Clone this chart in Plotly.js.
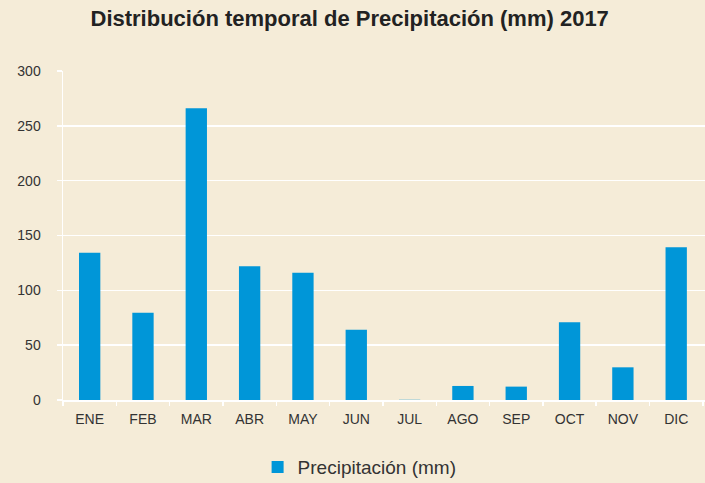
<!DOCTYPE html>
<html><head><meta charset="utf-8">
<script src="https://cdn.plot.ly/plotly-3.0.1.min.js"></script>
<style>html,body{margin:0;padding:0;background:#F5ECD8;}</style>
</head><body>
<div id="chart" style="width:705px;height:483px;"></div>
<script>
const months = ["ENE","FEB","MAR","ABR","MAY","JUN","JUL","AGO","SEP","OCT","NOV","DIC"];
const precip = [134.3, 79.5, 266, 122, 116, 64, 0.2, 12.8, 12.2, 70.8, 29.8, 139.2];
const yTicks = [0, 50, 100, 150, 200, 250, 300];

Plotly.newPlot("chart", [{
  type: "bar", x: months, y: precip, name: "Precipitación (mm)",
  marker: {color: "#0096D8"}
}], {
  width: 705, height: 483,
  paper_bgcolor: "#F5ECD8", plot_bgcolor: "#F5ECD8",
  margin: {l: 63, r: 0, t: 71, b: 83},
  bargap: 0.6,
  showlegend: true,
  title: {text: "<b>Distribución temporal de Precipitación (mm) 2017</b>", x: 0.496, xanchor: "center", y: 0.962, yanchor: "middle",
    font: {family: "Liberation Sans, Arial, sans-serif", size: 22, color: "#222"}},
  font: {family: "Liberation Sans, Arial, sans-serif", size: 14, color: "#333"},
  xaxis: {range: [-0.5, 11.54], tickmode: "array", tickvals: months, showgrid: false,
    showline: true, linecolor: "#ffffff", linewidth: 1.5, automargin: false,
    ticks: "outside", tickson: "boundaries", ticklen: 4, tickcolor: "#ffffff", tickwidth: 1.5,
    ticklabelstandoff: 6,
    tickfont: {size: 14, color: "#333"}},
  yaxis: {range: [0, 300], tickvals: yTicks, showgrid: true, gridcolor: "#ffffff", gridwidth: 1.5,
    showline: true, linecolor: "#ffffff", linewidth: 1.5, zeroline: false, automargin: false,
    ticks: "outside", ticklen: 5, tickcolor: "#ffffff", tickwidth: 1.5,
    ticklabelstandoff: 13,
    tickfont: {size: 14, color: "#333"}},
  legend: {orientation: "h", x: 0.462, xanchor: "center", yref: "container", y: 0.033, yanchor: "middle",
    font: {size: 19, color: "#333"}, bgcolor: "rgba(0,0,0,0)"}
}, {displayModeBar: false, staticPlot: true});
</script>
</body></html>
